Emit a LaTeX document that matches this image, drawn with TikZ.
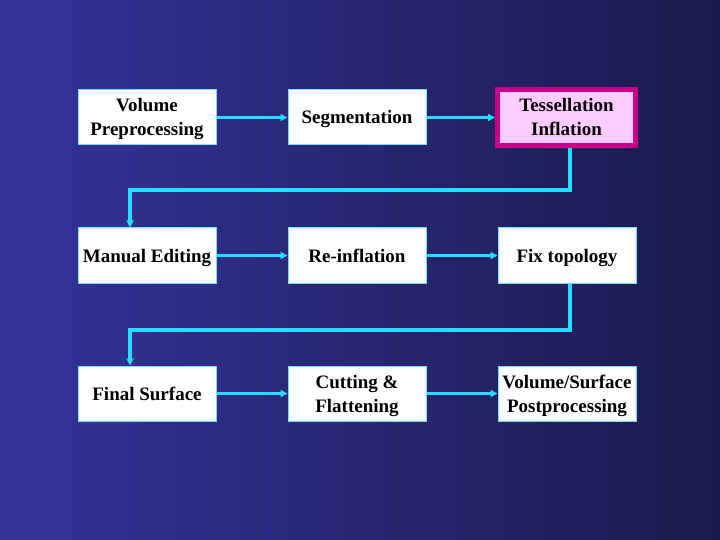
\documentclass[tikz,border=0pt]{standalone}
\usepackage{fontspec}
\setmainfont{Liberation Serif}
\usetikzlibrary{arrows.meta}
\definecolor{bgl}{RGB}{52,52,155}
\definecolor{bgr}{RGB}{26,26,75}
\definecolor{cy}{RGB}{40,220,255}
\definecolor{boxline}{RGB}{120,220,255}
\definecolor{mag}{RGB}{200,0,140}
\definecolor{pinkf}{RGB}{255,204,255}
\begin{document}
\begin{tikzpicture}[x=1pt,y=-1pt,
  stepbox/.style={draw=boxline,line width=1pt,fill=white,minimum width=138pt,minimum height=55pt,
    inner sep=0pt,align=center,font=\fontsize{19}{24}\selectfont\bfseries},
  oneline/.style={text height=15pt,text depth=2pt},
  twoline/.style={text height=39pt,text depth=2pt},
  hibox/.style={stepbox,twoline,draw=mag,line width=5pt,fill=pinkf,minimum width=138pt,minimum height=56pt},
  conn/.style={draw=cy,line width=3.5pt,-{Triangle[length=7pt,width=7pt]}}]
\shade[left color=bgl,right color=bgr] (0,0) rectangle (720,540);
\useasboundingbox (0,0) rectangle (720,540);
\node[stepbox,twoline] (vp) at (147,117.5) {Volume\\Preprocessing};
\node[stepbox,oneline] (seg) at (357,117.5) {Segmentation};
\node[hibox] (tes) at (566.5,117.5) {Tessellation\\Inflation};
\node[stepbox,oneline] (me) at (147,255.5) {Manual Editing};
\node[stepbox,oneline] (ri) at (357,255.5) {Re-inflation};
\node[stepbox,oneline] (ft) at (567,255.5) {Fix topology};
\node[stepbox,oneline] (fs) at (147,393.5) {Final Surface};
\node[stepbox,twoline] (cf) at (357,393.5) {Cutting \&\\Flattening};
\node[stepbox,twoline] (vs) at (567,393.5) {Volume/Surface\\Postprocessing};
\coordinate (c1) at (570,190);
\coordinate (c2) at (130,190);
\coordinate (c3) at (570,330);
\coordinate (c4) at (130,330);
\draw[conn] (vp) -- (seg);
\draw[conn] (seg) -- (tes);
\draw[conn] (tes.south -| c1) -- (c1) -- (c2) -- (me.north -| c2);
\draw[conn] (me) -- (ri);
\draw[conn] (ri) -- (ft);
\draw[conn] (ft.south -| c3) -- (c3) -- (c4) -- (fs.north -| c4);
\draw[conn] (fs) -- (cf);
\draw[conn] (cf) -- (vs);
\end{tikzpicture}
\end{document}
